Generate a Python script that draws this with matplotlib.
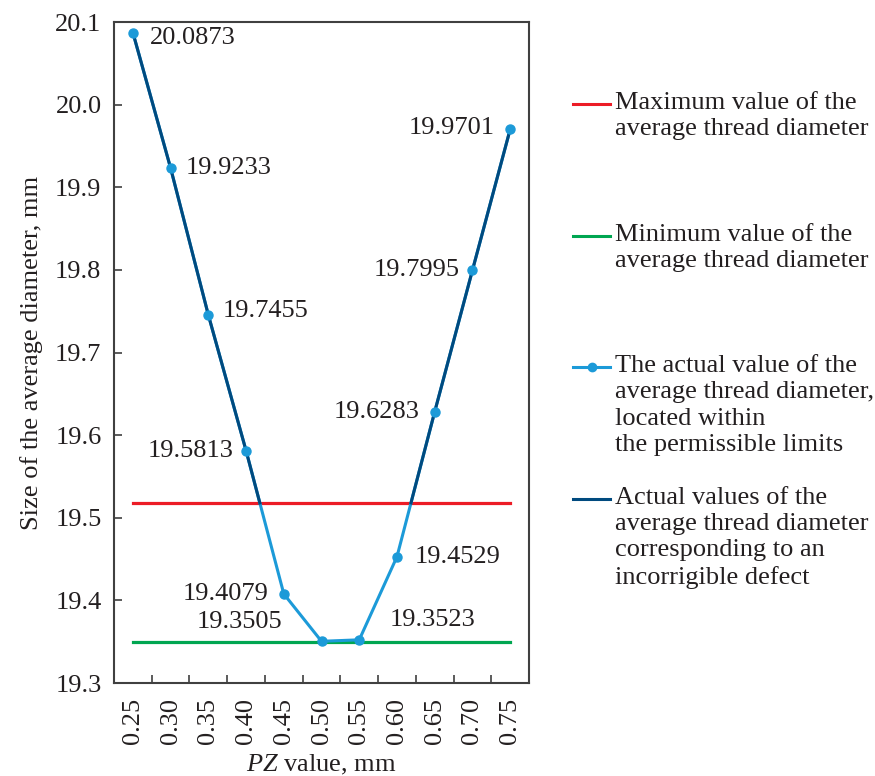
import numpy as np
import matplotlib
matplotlib.use("Agg")
import matplotlib.pyplot as plt
from matplotlib.lines import Line2D

plt.rcParams['font.family'] = ['Liberation Serif', 'DejaVu Serif']
plt.rcParams['mathtext.fontset'] = 'custom'
plt.rcParams['mathtext.it'] = 'Liberation Serif:italic'
plt.rcParams['mathtext.rm'] = 'Liberation Serif'

# data
pz_labels = ["0.25", "0.30", "0.35", "0.40", "0.45", "0.50", "0.55", "0.60", "0.65", "0.70", "0.75"]
diameter = [20.0873, 19.9233, 19.7455, 19.5813, 19.4079, 19.3505, 19.3523, 19.4529, 19.6283, 19.7995, 19.9701]
max_limit = 19.518
min_limit = 19.350

legend_labels = [
    "Maximum value of the\naverage thread diameter",
    "Minimum value of the\naverage thread diameter",
    "The actual value of the\naverage thread diameter,\nlocated within\nthe permissible limits",
    "Actual values of the\naverage thread diameter\ncorresponding to an\nincorrigible defect",
]

c_red = '#ec1c26'
c_green = '#00a651'
c_light = '#1c9ad8'
c_dark = '#004a7f'
fs = 19

x = np.arange(len(diameter))
y = np.array(diameter)

fig = plt.figure(figsize=(8.75, 7.76), dpi=100)
ax = fig.add_axes([0.1303, 0.1198, 0.4743, 0.8518])

# limit lines
ax.plot([x[0], x[-1]], [max_limit, max_limit], color=c_red, lw=2.3, zorder=2)
ax.plot([x[0], x[-1]], [min_limit, min_limit], color=c_green, lw=2.3, zorder=2)

# actual values (light blue)
ax.plot(x, y, color=c_light, lw=2.2, zorder=3)

# parts above the maximum limit in dark blue
# left part: from first point to crossing with max line
i = np.where(y < max_limit)[0][0]
t = (y[i - 1] - max_limit) / (y[i - 1] - y[i])
xl = np.append(x[:i], x[i - 1] + t)
yl = np.append(y[:i], max_limit)
ax.plot(xl, yl, color=c_dark, lw=2.2, zorder=4)
# right part
j = np.where(y < max_limit)[0][-1]
t = (max_limit - y[j]) / (y[j + 1] - y[j])
xr = np.insert(x[j + 1:].astype(float), 0, x[j] + t)
yr = np.insert(y[j + 1:], 0, max_limit)
ax.plot(xr, yr, color=c_dark, lw=2.2, zorder=4)

ax.plot(x, y, 'o', color=c_light, ms=6.5, zorder=5)

# value labels (offsets in points)
offsets = [(12, -4, 'left'), (11, 0, 'left'), (10, 3, 'left'), (-9, 0, 'right'),
           (-11, 0, 'right'), (-59, 14, 'center'), (53, 14, 'center'), (13, 0, 'left'),
           (-11, 0, 'right'), (-9, 0, 'right'), (-11, 1, 'right')]
for xi, yi, (dx, dy, ha) in zip(x, y, offsets):
    ax.annotate(f"{yi:.4f}", (xi, yi), xytext=(dx, dy), textcoords='offset points',
                ha=ha, va='center', fontsize=fs, color='#231f20', zorder=6)

ax.set_xlim(-0.5, len(x) - 0.5)
ax.set_ylim(19.3, 20.1)
ax.set_yticks(np.arange(19.3, 20.1001, 0.1))
ax.set_yticklabels([f"{v:.1f}" for v in np.arange(19.3, 20.1001, 0.1)])
ax.set_xticks(x)
ax.set_xticklabels(pz_labels, rotation=90)
ax.set_xticks(np.arange(0.5, len(x) - 1, 1), minor=True)
ax.tick_params(axis='x', which='major', length=0, pad=11, labelsize=fs, colors='#231f20')
ax.tick_params(axis='x', which='minor', direction='in', length=6, width=1.2, color='#404040')
ax.tick_params(axis='y', direction='in', length=6, width=1.2, pad=9, labelsize=fs,
               labelcolor='#231f20', color='#404040')
for s in ax.spines.values():
    s.set_linewidth(1.5)
    s.set_color('#404040')

ax.set_ylabel("Size of the average diameter, mm", fontsize=fs, color='#231f20', labelpad=9)
ax.set_xlabel(r"$PZ$ value, mm", fontsize=fs, color='#231f20', labelpad=6)

# legend, drawn by hand so the handles line up with the first text line
colors = [c_red, c_green, c_light, c_dark]
W, H = 875, 776
for k, (lab, col) in enumerate(zip(legend_labels, colors)):
    yy = 1 - (104 + 131.5 * k) / H
    fig.add_artist(Line2D([573 / W, 610 / W], [yy, yy], color=col, lw=2.2))
    if col == c_light:
        fig.add_artist(Line2D([591.5 / W], [yy], marker='o', color=col, ms=6))
    fig.text(615 / W, yy + 12 / H, lab, fontsize=fs, va='top', ha='left',
             linespacing=1.26, color='#231f20')

fig.savefig("out.png", dpi=100)
